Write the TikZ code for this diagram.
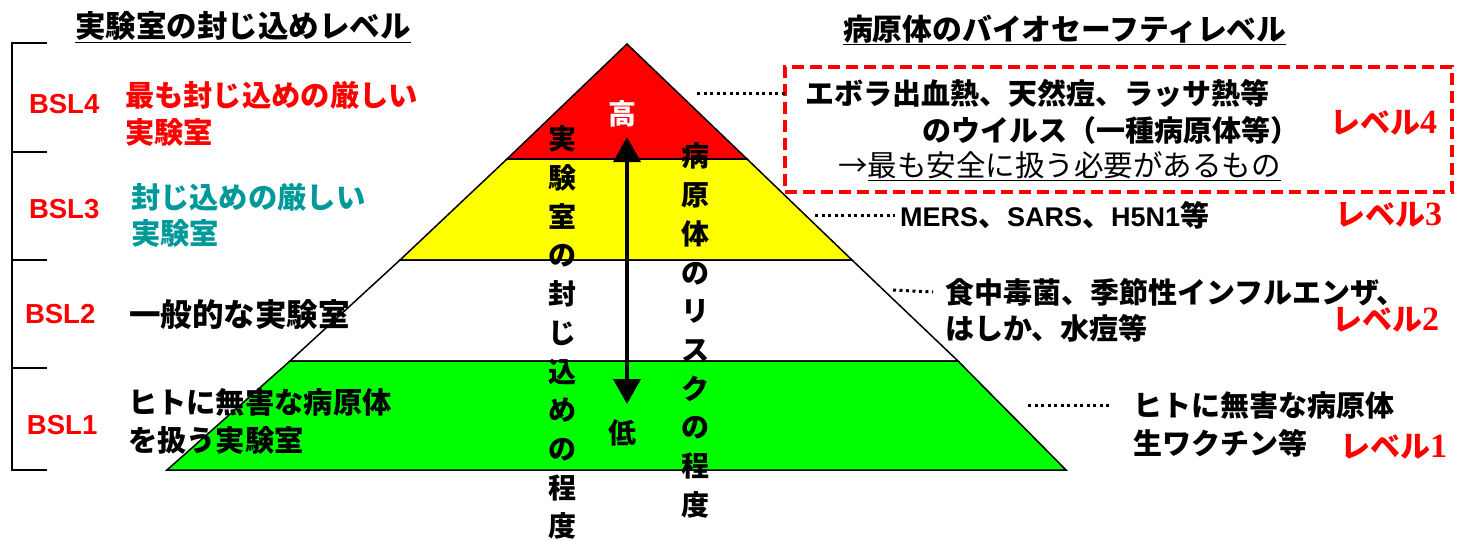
\documentclass[tikz,border=0pt]{standalone}
\usepackage{fontspec}
\setmainfont{Noto Sans CJK JP}
\newfontfamily\lat{Liberation Sans}
\newfontfamily\ser{Liberation Serif}
\usetikzlibrary{arrows.meta}
\definecolor{pred}{RGB}{255,0,0}
\definecolor{pyel}{RGB}{255,255,0}
\definecolor{pgrn}{RGB}{0,255,0}
\definecolor{pteal}{RGB}{0,153,153}
\newcommand\dig[1]{{\ser\fontsize{34}{36}\selectfont #1}}
\begin{document}
\begin{tikzpicture}[x=1pt,y=-1pt,
  every node/.style={inner sep=0pt,outer sep=0pt},
  layer/.style={draw=black,line width=1.5pt,line join=miter},
  ttl/.style={font=\fontsize{30.5}{37}\selectfont\bfseries,anchor=west},
  lab/.style={font=\fontsize{29.3}{36}\selectfont\bfseries,anchor=west},
  rlab/.style={font=\fontsize{29}{36}\selectfont\bfseries,anchor=west},
  bsl/.style={font=\lat\fontsize{27.5}{32}\selectfont\bfseries,text=pred,anchor=west},
  lvl/.style={font=\fontsize{30}{36}\selectfont\bfseries,text=pred,anchor=west},
  vert/.style={font=\fontsize{28}{38.7}\selectfont\bfseries,align=center,anchor=north},
  dots/.style={line width=3pt,dash pattern=on 3pt off 3.5pt},
  bracket/.style={line width=1.5pt},
  dashbox/.style={draw=pred,line width=3.5pt,dash pattern=on 12pt off 6pt}]
\useasboundingbox (0,0) rectangle (1458,539);

% pyramid layers
\fill[pred] (627,44) -- (747,159) -- (507,159) -- cycle;
\draw[layer] (627,44) -- (747,159) -- (507,159) -- cycle;
\draw[layer,fill=pyel] (507,159) -- (747,159) -- (852,260) -- (400,260) -- cycle;
\draw[layer,fill=white] (400,260) -- (852,260) -- (958,361) -- (290,361) -- cycle;
\draw[layer,fill=pgrn] (290,361) -- (958,361) -- (1066,470) -- (167,470) -- cycle;

% left bracket
\draw[bracket] (47,43) -- (12,43) -- (12,470) -- (47,470);
\draw[bracket] (12,152) -- (47,152);
\draw[bracket] (12,260) -- (47,260);
\draw[bracket] (12,368) -- (47,368);

% titles
\node[ttl] (ltitle) at (75,27) {\underline{実験室の封じ込めレベル}};
\node[ttl,font=\fontsize{29.8}{37}\selectfont\bfseries] (rtitle) at (843,30) {\underline{病原体のバイオセーフティレベル}};

% left labels
\node[bsl] (b4) at (29,104) {BSL4};
\node[bsl] (b3) at (29,209) {BSL3};
\node[bsl] (b2) at (25,314) {BSL2};
\node[bsl] (b1) at (27,425) {BSL1};
\node[lab,text=pred] (l4a) at (125,95) {最も封じ込めの厳しい};
\node[lab,text=pred] (l4b) at (125,132) {実験室};
\node[lab,text=pteal] (l3a) at (131,197) {封じ込めの厳しい};
\node[lab,text=pteal] (l3b) at (131,233) {実験室};
\node[lab,font=\fontsize{31.5}{36}\selectfont\bfseries] (l2) at (129,315) {一般的な実験室};
\node[lab] (l1a) at (128,402) {ヒトに無害な病原体};
\node[lab] (l1b) at (128,440) {を扱う実験室};

% inside pyramid
\node[font=\fontsize{28}{34}\selectfont\bfseries,text=white] (hi) at (622,114) {高};
\node[font=\fontsize{28}{34}\selectfont\bfseries] (lo) at (622,433) {低};
\coordinate (atop) at (627,137);
\coordinate (abot) at (627,404);
\draw[line width=4pt,{Triangle[width=27pt,length=25pt]}-{Triangle[width=27pt,length=25pt]}] (atop) -- (abot);
\node[vert] (v1) at (562,126) {実\\験\\室\\の\\封\\じ\\込\\め\\の\\程\\度};
\node[vert] (v2) at (695,143) {病\\原\\体\\の\\リ\\ス\\ク\\の\\程\\度};

% right side
\node[dashbox,minimum width=667pt,minimum height=125pt,anchor=north west] (box) at (785,67) {};
\node[rlab] (t4a) at (805,93) {エボラ出血熱、天然痘、ラッサ熱等};
\node[rlab] (t4b) at (922,130) {のウイルス（一種病原体等）};
\node[font=\fontsize{29.5}{36}\selectfont,anchor=west] (t4c) at (838,166) {→\underline{最も安全に扱う必要があるもの}};
\node[lvl] (lv4) at (1330,123) {レベル\dig{4}};
\node[rlab] (t3) at (900,215) {{\lat\fontsize{27}{32}\selectfont MERS}、{\lat\fontsize{27}{32}\selectfont SARS}、{\lat\fontsize{27}{32}\selectfont H5N1}等};
\node[lvl] (lv3) at (1335,215) {レベル\dig{3}};
\node[rlab] (t2a) at (945,292) {食中毒菌、季節性インフルエンザ、};
\node[rlab] (t2b) at (945,328) {はしか、水痘等};
\node[lvl] (lv2) at (1332,320) {レベル\dig{2}};
\node[rlab] (t1a) at (1133,405) {ヒトに無害な病原体};
\node[rlab] (t1b) at (1133,443) {生ワクチン等};
\node[lvl] (lv1) at (1340,447) {レベル\dig{1}};

% dotted leaders
\coordinate (d4) at (697,93);
\coordinate (d3) at (815,215);
\coordinate (d2) at (893,290);
\coordinate (d1) at (1028,405);
\draw[dots] (d4) -- (box.west |- d4);
\draw[dots] (d3) -- ([xshift=-5pt]t3.west);
\draw[dots] (d2) -- ([xshift=-12pt]t2a.west);
\draw[dots] (d1) -- ([xshift=-22pt]t1a.west);
\end{tikzpicture}
\end{document}
